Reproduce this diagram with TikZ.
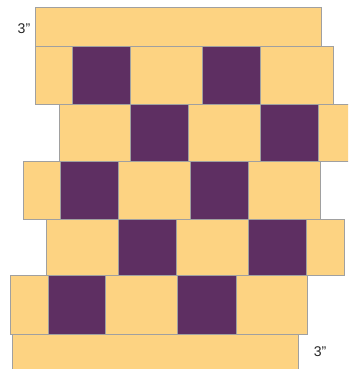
\documentclass[tikz,border=0pt]{standalone}
\usepackage{fontspec}
\setsansfont{Liberation Sans}
\usepackage{tikz}
\definecolor{quiltsand}{HTML}{FDD382}
\definecolor{quiltplum}{HTML}{5E2F62}
\definecolor{seamgray}{HTML}{A0A0A0}
\tikzset{
  % stoffbitar
  lt/.style={fill=quiltsand,draw=seamgray,line width=0.7pt},
  dk/.style={fill=quiltplum,draw=seamgray,line width=0.7pt},
  % mått
  dim/.style={font=\sffamily\fontsize{10}{12}\selectfont,text=black!85,inner sep=1pt},
}
\begin{document}
\begin{tikzpicture}[x=0.25mm,y=-0.25mm]
  \useasboundingbox (0,0) rectangle (348,369);
  \clip (0,0) rectangle (348,369);
  % remsa överst
  \draw[lt] (35,7) rectangle (321,46);
  % rad 1
  \draw[lt] (35,46) rectangle (72,104);
  \draw[dk] (72,46) rectangle (130,104);
  \draw[lt] (130,46) rectangle (202,104);
  \draw[dk] (202,46) rectangle (260,104);
  \draw[lt] (260,46) rectangle (333,104);
  % rad 2
  \draw[lt] (59,104) rectangle (130,161);
  \draw[dk] (130,104) rectangle (188,161);
  \draw[lt] (188,104) rectangle (260,161);
  \draw[dk] (260,104) rectangle (318,161);
  \draw[lt] (318,104) rectangle (360,161);
  % rad 3
  \draw[lt] (23,161) rectangle (60,219);
  \draw[dk] (60,161) rectangle (118,219);
  \draw[lt] (118,161) rectangle (190,219);
  \draw[dk] (190,161) rectangle (248,219);
  \draw[lt] (248,161) rectangle (320,219);
  % rad 4
  \draw[lt] (46,219) rectangle (118,275);
  \draw[dk] (118,219) rectangle (176,275);
  \draw[lt] (176,219) rectangle (248,275);
  \draw[dk] (248,219) rectangle (306,275);
  \draw[lt] (306,219) rectangle (344,275);
  % rad 5
  \draw[lt] (10,275) rectangle (48,334);
  \draw[dk] (48,275) rectangle (105,334);
  \draw[lt] (105,275) rectangle (177,334);
  \draw[dk] (177,275) rectangle (236,334);
  \draw[lt] (236,275) rectangle (307,334);
  % remsa nederst
  \draw[lt] (12,334) rectangle (298,380);
  \node[dim] (topw) at (24,29) {3\char34};
  \node[dim] (botw) at (320,352) {3\char34};
\end{tikzpicture}
\end{document}
